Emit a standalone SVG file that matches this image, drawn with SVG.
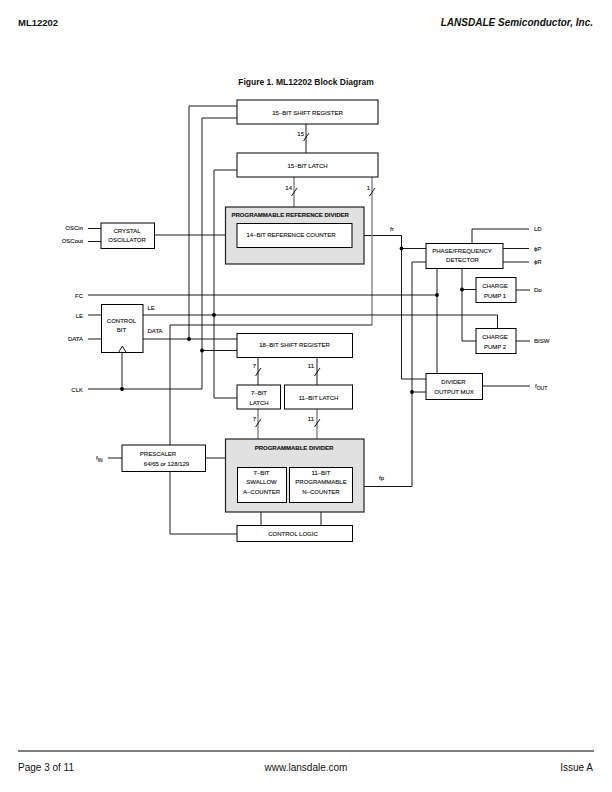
<svg xmlns="http://www.w3.org/2000/svg" width="612" height="792" viewBox="0 0 612 792">
<style>
.box{fill:#fff;stroke:#000;stroke-width:1}
.gbox{fill:#e1e1e1;stroke:#222;stroke-width:1.2}
.w{fill:none;stroke:#000;stroke-width:0.9}
.bus{fill:none;stroke:#7a7a7a;stroke-width:1.3}
.sl{fill:none;stroke:#000;stroke-width:0.9}
.dot{fill:#000}
.t{font-family:"Liberation Sans",Arial,sans-serif;font-size:6px;fill:#111;text-anchor:middle;stroke:#111;stroke-width:0.12}
.tb{font-weight:bold}
.s{text-anchor:start}
.e{text-anchor:end}
.hd{font-family:"Liberation Sans",Arial,sans-serif;fill:#111}
</style>
<rect width="612" height="792" fill="#fff"/>

<g id="header">
<text class="hd" x="18" y="26" font-size="9.5" font-weight="bold">ML12202</text>
<text class="hd" x="593" y="26" font-size="10" font-weight="bold" font-style="italic" text-anchor="end">LANSDALE Semiconductor, Inc.</text>
<text class="hd" x="306" y="85" font-size="8.5" font-weight="bold" text-anchor="middle">Figure 1. ML12202 Block Diagram</text>
</g>

<g id="footer">
<line x1="18" y1="751" x2="594" y2="751" stroke="#000" stroke-width="1"/>
<text class="hd" x="18" y="771" font-size="10">Page 3 of 11</text>
<text class="hd" x="306" y="771" font-size="10" text-anchor="middle">www.lansdale.com</text>
<text class="hd" x="593" y="771" font-size="10" text-anchor="end">Issue A</text>
</g>

<g id="connectors">
<path class="w" d="M88,228.5H101"/>
<path class="w" d="M88,241.5H101"/>
<path class="w" d="M154,235H237"/>
<path class="w" d="M364,235.5H401.5V379H426"/>
<path class="w" d="M401.5,248.5H426"/>
<path class="w" d="M352,486.5H412V262H426"/>
<path class="w" d="M412,392H426"/>
<path class="w" d="M306,124V153"/>
<path class="bus" d="M294,177V207"/>
<path class="bus" d="M372,177V325"/>
<path class="w" d="M372,325H170V445"/>
<path class="w" d="M237,106H189V339"/>
<path class="w" d="M237,118H202V389H88"/>
<path class="w" d="M237,170H214V398H237"/>
<path class="w" d="M88,295H437"/>
<path class="w" d="M437,268V373"/>
<path class="w" d="M88,315H101.5"/>
<path class="w" d="M143,315H497.5V328"/>
<path class="w" d="M88,339H101.5"/>
<path class="w" d="M143,339H237"/>
<path class="w" d="M202,350.5H237"/>
<path class="w" d="M122,352V389"/>
<path class="w" d="M258,357V385"/>
<path class="w" d="M317,357V385"/>
<path class="bus" d="M258,409V439"/>
<path class="bus" d="M317,409V439"/>
<path class="w" d="M108,458H122"/>
<path class="w" d="M206,458H321V467"/>
<path class="w" d="M261,458V467"/>
<path class="w" d="M261,502V525"/>
<path class="w" d="M321,502V525"/>
<path class="w" d="M170,472V534H237"/>
<path class="w" d="M472,243V229H529"/>
<path class="w" d="M503,248.5H529"/>
<path class="w" d="M503,262H529"/>
<path class="w" d="M462,268V341H476"/>
<path class="w" d="M462,289.5H476"/>
<path class="w" d="M516,290H530"/>
<path class="w" d="M516,341H530"/>
<path class="w" d="M483,386H530"/>
<!-- dots -->
<circle class="dot" cx="401.5" cy="248.5" r="1.9"/>
<circle class="dot" cx="437" cy="295" r="1.9"/>
<circle class="dot" cx="462" cy="289.5" r="1.9"/>
<circle class="dot" cx="412" cy="392" r="1.9"/>
<circle class="dot" cx="214" cy="315" r="1.9"/>
<circle class="dot" cx="189" cy="339" r="1.9"/>
<circle class="dot" cx="202" cy="350.5" r="1.9"/>
<circle class="dot" cx="122" cy="389" r="1.9"/>
<!-- bus slashes -->
<path class="sl" d="M303.5,141L309,133"/>
<path class="sl" d="M291.5,196L297,188"/>
<path class="sl" d="M369.5,196L375,188"/>
<path class="sl" d="M255.5,376L261,368"/>
<path class="sl" d="M314.5,376L320,368"/>
<path class="sl" d="M255.5,427L261,419"/>
<path class="sl" d="M314.5,427L320,419"/>
<text class="t e" x="304" y="136">15</text>
<text class="t e" x="292" y="190">14</text>
<text class="t e" x="370" y="190">1</text>
<text class="t e" x="256" y="368">7</text>
<text class="t e" x="314" y="368">11</text>
<text class="t e" x="256" y="421">7</text>
<text class="t e" x="314" y="421">11</text>
<!-- signal labels -->
<text class="t s" x="390" y="231">fr</text>
<text class="t s" x="379" y="480">fp</text>
<text class="t s" x="147.5" y="310">LE</text>
<text class="t s" x="147.5" y="333">DATA</text>
</g>

<g id="pins">
<text class="t e" x="83" y="230">OSCin</text>
<text class="t e" x="83" y="243">OSCout</text>
<text class="t e" x="83" y="297.5">FC</text>
<text class="t e" x="83" y="317.5">LE</text>
<text class="t e" x="83" y="341">DATA</text>
<text class="t e" x="83" y="391.5">CLK</text>
<text class="t s" x="96" y="459.5">f<tspan font-size="5" dy="2">IN</tspan></text>
<text class="t s" x="534" y="231">LD</text>
<text class="t s" x="534" y="250.5">ϕP</text>
<text class="t s" x="534" y="264">ϕR</text>
<text class="t s" x="534" y="292">Do</text>
<text class="t s" x="534" y="343">BISW</text>
<text class="t s" x="535" y="387.5">f<tspan font-size="5" dy="2">OUT</tspan></text>
</g>

<g id="shift15">
<rect class="box" x="237" y="100" width="141" height="24"/>
<text class="t" x="307.5" y="114.5">15–BIT SHIFT REGISTER</text>
</g>
<g id="latch15">
<rect class="box" x="237" y="153" width="141" height="24"/>
<text class="t" x="307.5" y="167.5">15–BIT LATCH</text>
</g>
<g id="refdivider">
<rect class="gbox" x="225.5" y="207" width="138.5" height="57"/>
<text class="t tb s" x="231.5" y="217">PROGRAMMABLE REFERENCE DIVIDER</text>
</g>
<g id="refcounter">
<rect class="box" x="237" y="223.5" width="115" height="24"/>
<text class="t" x="291" y="237">14–BIT REFERENCE COUNTER</text>
</g>
<g id="crystal">
<rect class="box" x="101" y="223" width="53.5" height="25.5"/>
<text class="t" x="127" y="232.5">CRYSTAL</text>
<text class="t" x="127" y="241.5">OSCILLATOR</text>
</g>
<g id="controlbit">
<rect class="box" x="101.5" y="304.5" width="41.5" height="48"/>
<text class="t" x="121.5" y="323">CONTROL</text>
<text class="t" x="121.5" y="332">BIT</text>
<polygon points="118.5,352.5 122.3,346 126.1,352.5" fill="#fff" stroke="#000" stroke-width="0.9"/>
</g>
<g id="shift18">
<rect class="box" x="237" y="333.5" width="115.5" height="24"/>
<text class="t" x="294.5" y="347">18–BIT SHIFT REGISTER</text>
</g>
<g id="latch7">
<rect class="box" x="237" y="385" width="43.5" height="24"/>
<text class="t" x="259" y="395">7–BIT</text>
<text class="t" x="259" y="404.5">LATCH</text>
</g>
<g id="latch11">
<rect class="box" x="284.5" y="385" width="68" height="24"/>
<text class="t" x="318.5" y="400">11–BIT LATCH</text>
</g>
<g id="progdivider">
<rect class="gbox" x="225.5" y="439" width="138.5" height="73"/>
<text class="t tb" x="294" y="450">PROGRAMMABLE DIVIDER</text>
</g>
<g id="acounter">
<rect class="box" x="237.5" y="467.5" width="49" height="35"/>
<text class="t" x="261.5" y="474.5">7–BIT</text>
<text class="t" x="261.5" y="484.2">SWALLOW</text>
<text class="t" x="261.5" y="494">A–COUNTER</text>
</g>
<g id="ncounter">
<rect class="box" x="289.5" y="467.5" width="63" height="35"/>
<text class="t" x="321" y="474.5">11–BIT</text>
<text class="t" x="321" y="484.2">PROGRAMMABLE</text>
<text class="t" x="321" y="494">N–COUNTER</text>
</g>
<g id="prescaler">
<rect class="box" x="122" y="445" width="83.5" height="26.5"/>
<text class="t" x="158" y="455.5">PRESCALER</text>
<text class="t" x="166.5" y="465.5">64/65 or 128/129</text>
</g>
<g id="controllogic">
<rect class="box" x="237" y="525.5" width="115.5" height="16"/>
<text class="t" x="293" y="535.5">CONTROL LOGIC</text>
</g>
<g id="detector">
<rect class="box" x="426" y="243.5" width="77" height="25"/>
<text class="t" x="462" y="253">PHASE/FREQUENCY</text>
<text class="t" x="462.5" y="262">DETECTOR</text>
</g>
<g id="pump1">
<rect class="box" x="476" y="277.5" width="40" height="25"/>
<text class="t" x="495" y="288">CHARGE</text>
<text class="t" x="495" y="297.5">PUMP 1</text>
</g>
<g id="pump2">
<rect class="box" x="476" y="328.5" width="40" height="25"/>
<text class="t" x="495" y="339">CHARGE</text>
<text class="t" x="495" y="348.5">PUMP 2</text>
</g>
<g id="outmux">
<rect class="box" x="426" y="373.5" width="56.5" height="26"/>
<text class="t" x="453.5" y="383.5">DIVIDER</text>
<text class="t" x="454" y="393.5">OUTPUT MUX</text>
</g>
</svg>
